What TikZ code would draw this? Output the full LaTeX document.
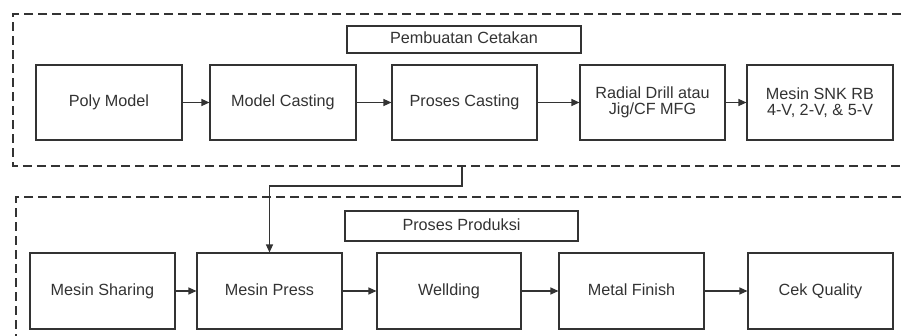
\documentclass[tikz,border=0pt]{standalone}
\usepackage{fontspec}
\setmainfont{Liberation Sans}
\usetikzlibrary{arrows.meta,positioning}
\definecolor{ink}{HTML}{333333}
\begin{document}
\begin{tikzpicture}[x=1pt,y=-1pt,
  box/.style={draw=ink,line width=1.1pt,text=ink,align=center,inner sep=0pt,
    font=\fontsize{16.2}{15.5}\selectfont},
  one/.style={box,text height=11.6pt,text depth=3.4pt},
  flow/.style={draw=ink,line width=1.2pt,-{Triangle[length=8pt,width=7pt]}},
  group/.style={draw=ink,line width=1.1pt,dash pattern=on 9pt off 5pt}]
\useasboundingbox (0,0) rectangle (903,335);
\clip (0,0) rectangle (903,335);
\fill[white] (0,0) rectangle (903,335);
% containers
\draw[group] (915,14) -- (13,14) -- (13,166) -- (915,166);
\draw[group] (915,197) -- (16,197) -- (16,345);
% titles
\node[one,minimum width=234pt,minimum height=27pt] (t1) at (464,39.5) {Pembuatan Cetakan};
\node[one,minimum width=233pt,minimum height=30pt] (t2) at (461.5,226) {Proses Produksi};
% top row
\node[one,minimum width=146pt,minimum height=75pt] (pm) at (109,102.5) {Poly Model};
\node[one,minimum width=146pt,minimum height=75pt] (mc) at (283,102.5) {Model Casting};
\node[one,minimum width=145pt,minimum height=75pt] (pc) at (464.5,102.5) {Proses Casting};
\node[box,minimum width=145pt,minimum height=75pt] (rd) at (652.5,102.5) {Radial Drill atau\\Jig/CF MFG};
\node[box,minimum width=146pt,minimum height=75pt] (sn) at (820,102.5) {Mesin SNK RB\\4-V, 2-V, \& 5-V};
% bottom row
\node[one,minimum width=145pt,minimum height=76pt] (ms) at (102.5,291) {Mesin Sharing};
\node[one,minimum width=145pt,minimum height=76pt] (mp) at (269.5,291) {Mesin Press};
\node[one,minimum width=144pt,minimum height=76pt] (we) at (449,291) {Wellding};
\node[one,minimum width=145pt,minimum height=76pt] (mf) at (631.5,291) {Metal Finish};
\node[one,minimum width=145pt,minimum height=76pt] (cq) at (820.5,291) {Cek Quality};
% connectors
\draw[flow] (pm) -- (mc);
\draw[flow] (mc) -- (pc);
\draw[flow] (pc) -- (rd);
\draw[flow] (rd) -- (sn);
\draw[flow] (ms) -- (mp);
\draw[flow] (mp) -- (we);
\draw[flow] (we) -- (mf);
\draw[flow] (mf) -- (cq);
\coordinate (g1) at (462,166);
\draw[flow] (g1) -- (462,186) -| (mp.north);
\end{tikzpicture}
\end{document}
